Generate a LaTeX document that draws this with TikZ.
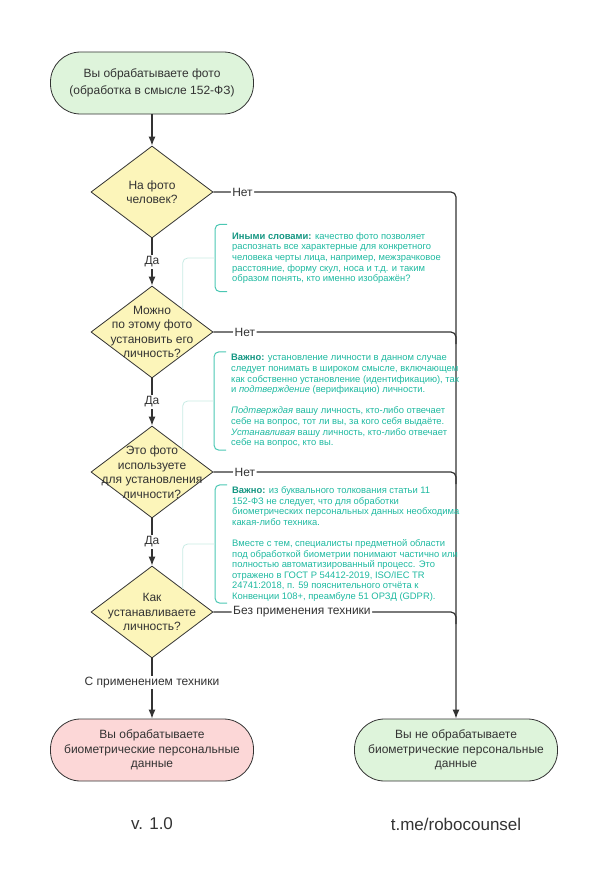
\documentclass[tikz,border=0pt]{standalone}
\usepackage{fontspec}
\setmainfont{Liberation Sans}
\usetikzlibrary{arrows.meta, calc, positioning, shapes.geometric}

\definecolor{ink}{RGB}{51,51,51}
\definecolor{greenfill}{RGB}{222,244,219}
\definecolor{askfill}{RGB}{252,245,186}
\definecolor{redfill}{RGB}{252,215,215}
\definecolor{noteteal}{RGB}{30,185,160}
\definecolor{notedark}{RGB}{20,150,130}
\definecolor{hintline}{RGB}{200,235,228}

\newcommand{\notekey}[1]{\textbf{\color{notedark}#1}}

\begin{document}
\begin{tikzpicture}[x=1pt, y=-1pt, node distance=140pt,
    every node/.style={text=ink},
    term/.style={draw=ink, line width=0.8pt, rounded corners=30pt, minimum width=203pt, minimum height=62pt, align=center, font=\fontsize{12}{14.5}\selectfont},
    ask/.style={diamond, draw=ink, line width=0.8pt, fill=askfill, minimum width=122pt, minimum height=92pt, inner sep=0pt},
    asktext/.style={align=center, font=\fontsize{12}{14.5}\selectfont},
    flow/.style={draw=ink, line width=1.2pt},
    arr/.style={flow, -{Latex[length=9pt, width=7pt]}},
    lbl/.style={fill=white, inner sep=1.5pt, font=\fontsize{12}{14}\selectfont},
    note/.style={anchor=west, align=left, inner xsep=17pt, inner ysep=0pt, text=noteteal, font=\fontsize{9.4}{10.6}\selectfont},
    bracket/.style={draw=noteteal!80, line width=1pt, rounded corners=5pt},
    hint/.style={draw=hintline, line width=0.8pt, rounded corners=5pt},
    foot/.style={font=\fontsize{17}{20}\selectfont}]
    \useasboundingbox (0,0) rectangle (600,883);

    % flow
    \node[term, fill=greenfill, font=\fontsize{12}{16.5}\selectfont] (start) at (152,83) {Вы обрабатываете фото\\(обработка в смысле 152-ФЗ)};
    \node[ask] (q1) [below of=start, node distance=109pt] {};
    \node[ask] (q2) [below of=q1] {};
    \node[ask] (q3) [below of=q2] {};
    \node[ask] (q4) [below of=q3] {};
    \node[term, fill=redfill] (yes) [below of=q4, node distance=138pt] {Вы обрабатываете\\биометрические персональные\\данные};
    \node[term, fill=greenfill] (no) [right of=yes, node distance=304pt] {Вы не обрабатываете\\биометрические персональные\\данные};

    \node[asktext] (q1t) at (q1) {На фото\\человек?};
    \node[asktext] (q2t) at (q2) {Можно\\по этому фото\\установить его\\личность?};
    \node[asktext] (q3t) at (q3) {Это фото\\используете\\для установления\\личности?};
    \node[asktext] (q4t) at (q4) {Как\\устанавливаете\\личность?};

    \draw[arr] (start) -- (q1);
    \draw[arr] (q1) -- node[lbl] (da1) {Да} (q2);
    \draw[arr] (q2) -- node[lbl] (da2) {Да} (q3);
    \draw[arr] (q3) -- node[lbl] (da3) {Да} (q4);
    \draw[arr] (q4) -- node[lbl, pos=0.4] (tech) {С применением техники} (yes);

    \draw[arr, rounded corners=5pt] (q1.east) -- node[lbl, pos=0.12] (net1) {Нет} (q1.east -| no.north) -- (no.north);
    \draw[flow, rounded corners=5pt] (q2.east) -- node[lbl, pos=0.13] (net2) {Нет} (q2.east -| no.north) -- ++(0,12);
    \draw[flow, rounded corners=5pt] (q3.east) -- node[lbl, pos=0.13] (net3) {Нет} (q3.east -| no.north) -- ++(0,12);
    \draw[flow, rounded corners=5pt] (q4.east) -- node[lbl, pos=0.365] (notech) {Без применения техники} (q4.east -| no.north) -- ++(0,12);

    % notes
    \node[note, minimum height=67pt] (note1) at (215,258) {\notekey{Иными словами:} качество фото позволяет\\распознать все характерные для конкретного\\человека черты лица, например, межзрачковое\\расстояние, форму скул, носа и т.д. и таким\\образом понять, кто именно изображён?};
    \node[note, minimum height=98pt] (note2) at (214,401) {\notekey{Важно:} установление личности в данном случае\\следует понимать в широком смысле, включающем\\как собственно установление (идентификацию), так\\и \textit{подтверждение} (верификацию) личности.\\[10.6pt]\textit{Подтверждая} вашу личность, кто-либо отвечает\\себе на вопрос, тот ли вы, за кого себя выдаёте.\\\textit{Устанавливая} вашу личность, кто-либо отвечает\\себе на вопрос, кто вы.};
    \node[note, minimum height=118pt] (note3) at (215,544) {\notekey{Важно:} из буквального толкования статьи 11\\152-ФЗ не следует, что для обработки\\биометрических персональных данных необходима\\какая-либо техника.\\[10.6pt]Вместе с тем, специалисты предметной области\\под обработкой биометрии понимают частично или\\полностью автоматизированный процесс. Это\\отражено в ГОСТ Р 54412-2019, ISO/IEC TR\\24741:2018, п. 59 пояснительного отчёта к\\Конвенции 108+, преамбуле 51 ОРЗД (GDPR).};

    \draw[bracket] ([xshift=12pt]note1.north west) -- (note1.north west) -- (note1.south west) -- ([xshift=12pt]note1.south west);
    \draw[bracket] ([xshift=12pt]note2.north west) -- (note2.north west) -- (note2.south west) -- ([xshift=12pt]note2.south west);
    \draw[bracket] ([xshift=12pt]note3.north west) -- (note3.north west) -- (note3.south west) -- ([xshift=12pt]note3.south west);
    \draw[hint] (q2.north east) |- (note1.west);
    \draw[hint] (q3.north east) |- (note2.west);
    \draw[hint] (q4.north east) |- (note3.west);

    % footer
    \node[foot] (ver) [below of=yes, node distance=74pt] {v. 1.0};
    \node[foot] (link) [below of=no, node distance=74pt] {t.me/robocounsel};
\end{tikzpicture}
\end{document}
